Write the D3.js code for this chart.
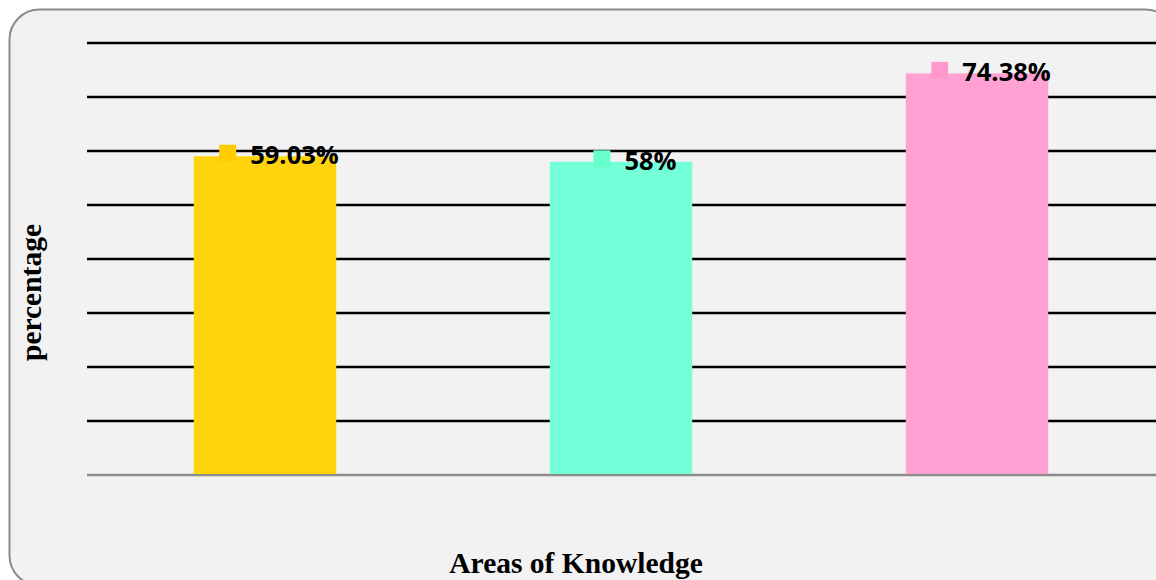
<!DOCTYPE html>
<html>
<head>
<meta charset="utf-8">
<script src="https://cdn.jsdelivr.net/npm/d3@7"></script>
<style>
  html, body { margin: 0; padding: 0; background: #ffffff; }
  svg { display: block; }
</style>
</head>
<body>
<svg id="chart" width="1156" height="580"></svg>
<script>
const categories = ["Area 1", "Area 2", "Area 3"];
const values = [59.03, 58, 74.38];
const valueLabels = ["59.03%", "58%", "74.38%"];
const gridTicks = [0, 10, 20, 30, 40, 50, 60, 70, 80];
const barColors = ["#ffd40d", "#73ffd8", "#ffa2d3"];
const markerColors = ["#ffcc00", "#66ffcc", "#ff99cc"];

const svg = d3.select("#chart");

// background panel with rounded border
svg.append("rect")
  .attr("x", 9.5).attr("y", 9.5)
  .attr("width", 1166).attr("height", 576)
  .attr("rx", 30).attr("ry", 30)
  .attr("fill", "#f2f2f2")
  .attr("stroke", "#8a8a8a")
  .attr("stroke-width", 2);

const x = d3.scaleBand()
  .domain(categories)
  .range([87, 1155])
  .paddingInner(0.6)
  .paddingOuter(0.3);

const y = d3.scaleLinear()
  .domain([0, 80])
  .range([475, 43]);

// gridlines
svg.append("g")
  .selectAll("line")
  .data(gridTicks)
  .join("line")
  .attr("x1", 87).attr("x2", 1160)
  .attr("y1", d => y(d)).attr("y2", d => y(d))
  .attr("stroke", d => d === 0 ? "#8c8c8c" : "#000000")
  .attr("stroke-width", 2.3);

// bars
svg.append("g")
  .selectAll("rect")
  .data(values)
  .join("rect")
  .attr("x", (d, i) => x(categories[i]))
  .attr("width", x.bandwidth())
  .attr("y", d => y(d))
  .attr("height", d => y(0) - y(d))
  .attr("fill", (d, i) => barColors[i]);

// redraw baseline on top of bars
svg.append("line")
  .attr("x1", 87).attr("x2", 1160)
  .attr("y1", y(0)).attr("y2", y(0))
  .attr("stroke", "#8c8c8c").attr("stroke-width", 2);

// data labels: legend-key square + bold text
const labels = svg.append("g");
values.forEach((v, i) => {
  const cx = x(categories[i]) + x.bandwidth() / 2 + 14;
  const top = y(v);
  const g = labels.append("g");
  const sq = g.append("rect")
    .attr("width", 17).attr("height", 17)
    .attr("fill", markerColors[i]);
  const t = g.append("text")
    .attr("font-family", "'Open Sans', 'Liberation Sans', sans-serif")
    .attr("font-weight", 700)
    .attr("font-size", 25.5)
    .attr("fill", "#000")
    .text(valueLabels[i]);
  const tw = t.node().getComputedTextLength();
  const total = 17 + 14 + tw;
  const left = cx - total / 2;
  sq.attr("x", left).attr("y", top - 3 - 8.5);
  t.attr("x", left + 31).attr("y", top + 8);
});

// axis titles
svg.append("text")
  .attr("transform", "translate(41,292.5) rotate(-90)")
  .attr("text-anchor", "middle")
  .attr("font-family", "'Liberation Serif', 'Times New Roman', serif")
  .attr("font-weight", 700)
  .attr("font-size", 29.5)
  .attr("fill", "#000")
  .text("percentage");

svg.append("text")
  .attr("x", 576).attr("y", 573)
  .attr("text-anchor", "middle")
  .attr("font-family", "'Liberation Serif', 'Times New Roman', serif")
  .attr("font-weight", 700)
  .attr("font-size", 29.5)
  .attr("fill", "#000")
  .text("Areas of Knowledge");
</script>
</body>
</html>
